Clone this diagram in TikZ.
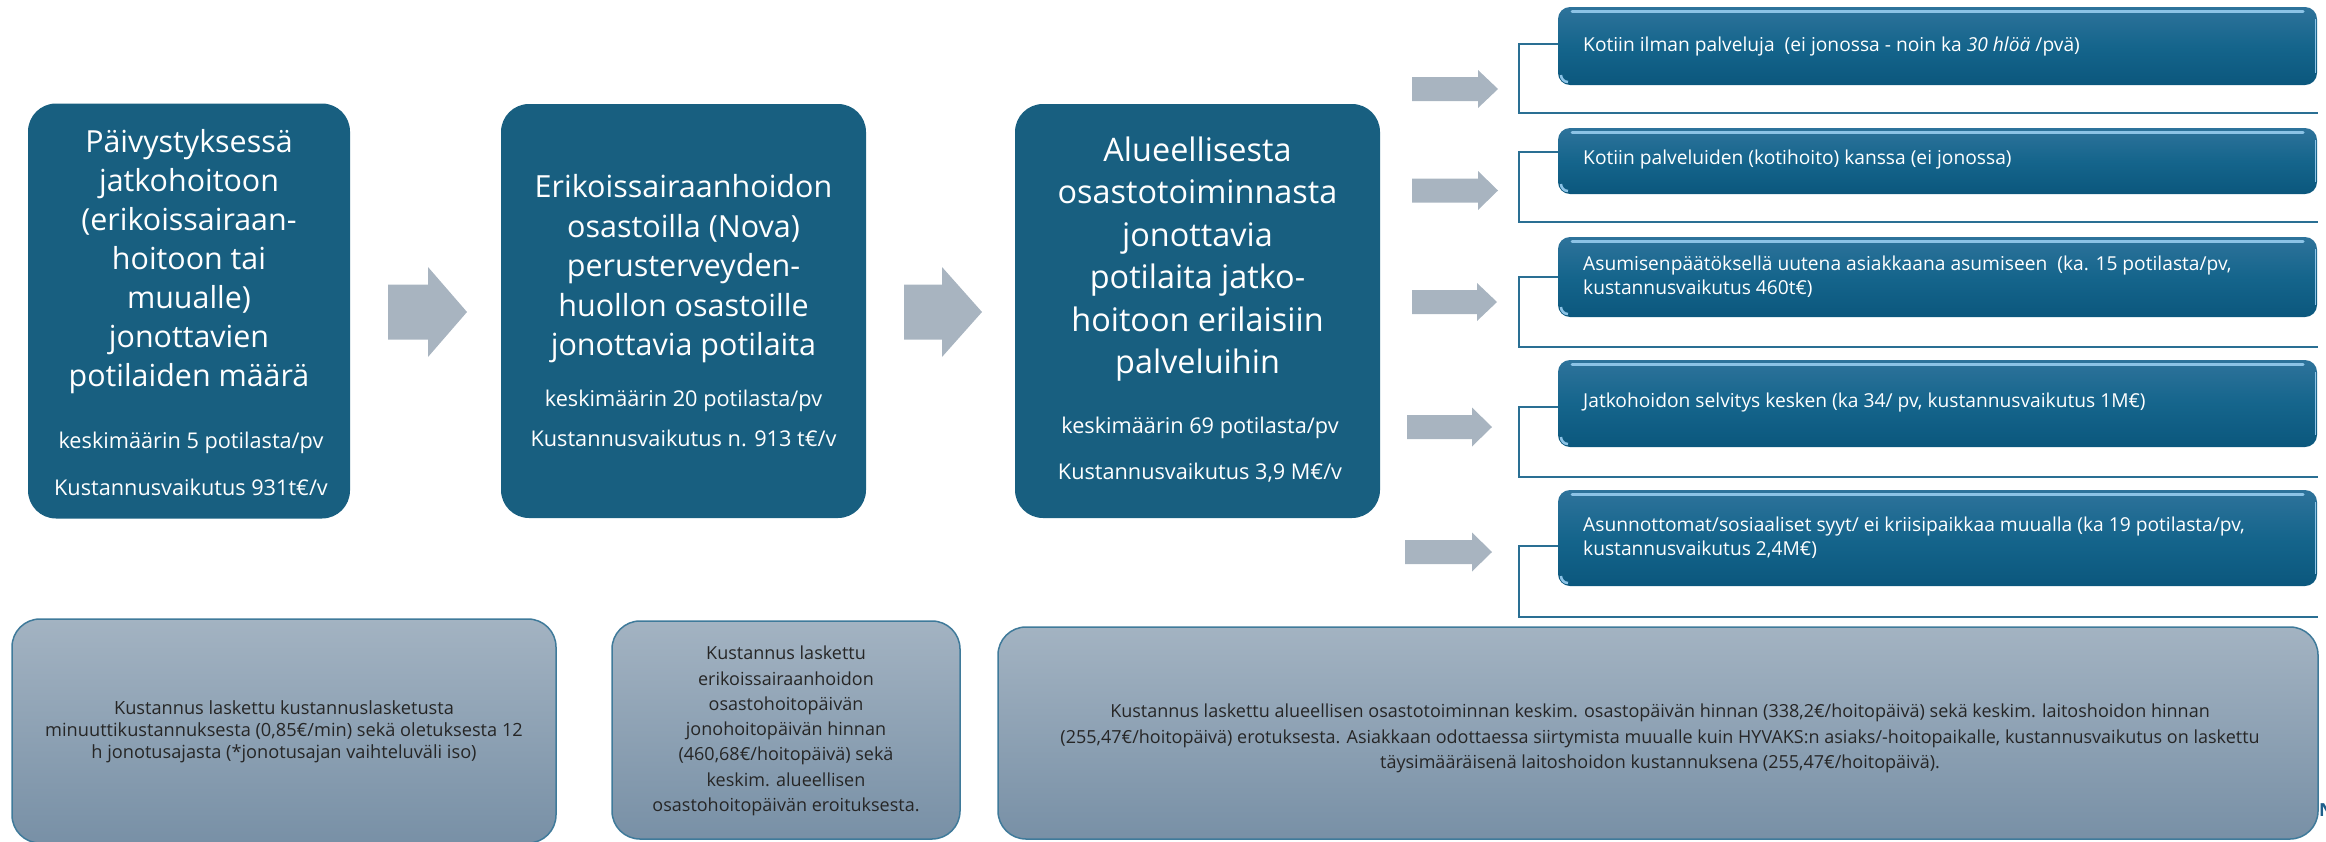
\documentclass[tikz,border=0pt]{standalone}
\usepackage{fontspec}
\setmainfont{Open Sans}
\definecolor{topblue}{HTML}{185F80}
\definecolor{arrowgray}{HTML}{A8B4C0}
\definecolor{rtop}{HTML}{2E739B}
\definecolor{rmid}{HTML}{15658C}
\definecolor{rbot}{HTML}{0B577D}
\definecolor{hlblue}{HTML}{8CC3E6}
\definecolor{brkblue}{HTML}{2A6F93}
\definecolor{btop}{HTML}{A3B3C2}
\definecolor{bbot}{HTML}{7890A6}
\definecolor{bborder}{HTML}{3F7A9A}
\definecolor{btext}{HTML}{262626}
\definecolor{nblue}{HTML}{1F5F8B}
\newcommand\mkarrow[7]{%
  \fill[arrowgray] (#2,#5-#6) -- (#3,#5-#6) -- (#3,#5-#7) -- (#4,#5) -- (#3,#5+#7) -- (#3,#5+#6) -- (#2,#5+#6) -- cycle;
  \coordinate (#1) at (#4,#5);}
\tikzset{
  topbox/.style={fill=topblue, rounded corners=28pt, inner sep=0pt, outer sep=0pt},
  maintext/.style={text=white, align=center, inner sep=0pt},
  rbox/.style={top color=rtop, bottom color=rbot, middle color=rmid, rounded corners=12pt,
    minimum width=759pt, inner sep=0pt, outer sep=0pt},
  rtext/.style={text=white, align=left, anchor=west, inner sep=0pt,
    font=\fontsize{19.2}{24}\selectfont},
  hl/.style={draw=hlblue, line width=3pt, line cap=round},
  hlr/.style={draw=hlblue, line width=1.5pt},
  glint/.style={draw=hlblue, line width=2.5pt},
  brk/.style={draw=brkblue, line width=2pt},
  bbox/.style={top color=btop, bottom color=bbot, draw=bborder, line width=1.5pt,
    rounded corners=28pt, inner sep=0pt, outer sep=0pt},
  btxt/.style={text=btext, align=center, inner sep=0pt}
}
\begin{document}
\begin{tikzpicture}[x=1pt,y=-1pt]
\useasboundingbox (0,0) rectangle (2326,841);

% ---- top main boxes ----
\node[topbox, minimum width=322pt, minimum height=415pt] (b1) at (189,311) {};
\node[topbox, minimum width=365pt, minimum height=414pt] (b2) at (683.5,311) {};
\node[topbox, minimum width=365pt, minimum height=414pt] (b3) at (1197.5,311) {};

\node[maintext, font=\fontsize{30.4}{39}\selectfont] (b1t) at (189,262)
  {Päivystyksessä\\jatkohoitoon\\(erikoissairaan-\\hoitoon tai\\muualle)\\jonottavien\\potilaiden määrä};
\node[maintext, font=\fontsize{21.7}{47}\selectfont] (b1s) at (191,463.5)
  {keskimäärin 5 potilasta/pv\\Kustannusvaikutus 931t€/v};

\node[maintext, font=\fontsize{30.5}{39.5}\selectfont] (b2t) at (683.5,269)
  {Erikoissairaanhoidon\\osastoilla (Nova)\\perusterveyden-\\huollon osastoille\\jonottavia potilaita};
\node[maintext, font=\fontsize{21.7}{40}\selectfont] (b2s) at (683.5,418)
  {keskimäärin 20 potilasta/pv\\Kustannusvaikutus n. 913 t€/v};

\node[maintext, font=\fontsize{32.4}{42.4}\selectfont] (b3t) at (1197.5,259)
  {Alueellisesta\\osastotoiminnasta\\jonottavia\\potilaita jatko-\\hoitoon erilaisiin\\palveluihin};
\node[maintext, font=\fontsize{21.7}{46}\selectfont] (b3s) at (1200,450)
  {keskimäärin 69 potilasta/pv\\Kustannusvaikutus 3,9 M€/v};

% ---- block arrows ----
\mkarrow{a1}{388}{428}{467}{312}{27.5}{45}
\mkarrow{a2}{904}{942}{982}{312}{27.5}{45}
\mkarrow{ra1}{1412}{1478}{1498}{89}{12}{19}
\mkarrow{ra2}{1412}{1478}{1498}{190.5}{12}{19.5}
\mkarrow{ra3}{1412}{1477}{1497}{302}{12}{19}
\mkarrow{ra4}{1407}{1472}{1492}{427}{12}{19.5}
\mkarrow{ra5}{1405}{1472}{1492}{552}{12}{19.5}

% ---- right boxes ----
\node[rbox, minimum height=78pt] (r1) at (1937.5,46) {};
\node[rbox, minimum height=66pt] (r2) at (1937.5,161) {};
\node[rbox, minimum height=80pt] (r3) at (1937.5,277) {};
\node[rbox, minimum height=87pt] (r4) at (1937.5,403.5) {};
\node[rbox, minimum height=96pt] (r5) at (1937.5,538) {};

\foreach \r in {r1,r2,r3,r4,r5}{
  \draw[hl] ([xshift=14pt,yshift=-4pt]\r.north west) -- ([xshift=-14pt,yshift=-4pt]\r.north east);
  \draw[hlr] ([xshift=-1.5pt,yshift=-12pt]\r.north east) -- ([xshift=-1.5pt,yshift=12pt]\r.south east);
  \draw[glint] ([xshift=3pt,yshift=10pt]\r.south west) arc[start angle=180,end angle=270,radius=7pt];
}

% brackets
\coordinate (e1) at (2318,113);
\coordinate (e2) at (2318,222);
\coordinate (e3) at (2318,347);
\coordinate (e4) at (2318,477);
\coordinate (e5) at (2318,617);
\draw[brk] ([yshift=2pt]r1.west) -- ++(-39,0) |- (e1);
\draw[brk] ([yshift=9pt]r2.west) -- ++(-39,0) |- (e2);
\draw[brk] (r3.west) -- ++(-39,0) |- (e3);
\draw[brk] ([yshift=-3.5pt]r4.west) -- ++(-39,0) |- (e4);
\draw[brk] ([yshift=-8pt]r5.west) -- ++(-39,0) |- (e5);

\node[rtext] (r1t) at (1583,47) {Kotiin ilman palveluja\ \ (ei jonossa - noin ka \textit{30 hlöä} /pvä)};
\node[rtext] (r2t) at (1583,160) {Kotiin palveluiden (kotihoito) kanssa (ei jonossa)};
\node[rtext] (r3t) at (1583,277) {Asumisenpäätöksellä uutena asiakkaana asumiseen\ \ (ka. 15 potilasta/pv,\\kustannusvaikutus 460t€)};
\node[rtext] (r4t) at (1583,403) {Jatkohoidon selvitys kesken (ka 34/ pv, kustannusvaikutus 1M€)};
\node[rtext] (r5t) at (1583,538) {Asunnottomat/sosiaaliset syyt/ ei kriisipaikkaa muualla (ka 19 potilasta/pv,\\kustannusvaikutus 2,4M€)};

% ---- bottom boxes ----
\node[bbox, minimum width=544pt, minimum height=224pt] (n1) at (284,731) {};
\node[bbox, minimum width=348pt, minimum height=218pt] (n2) at (786,730) {};
\node[bbox, minimum width=1320pt, minimum height=212pt] (n3) at (1658,733) {};

\node[btxt, font=\fontsize{18.2}{21.8}\selectfont] (n1t) at (284,732)
  {Kustannus laskettu kustannuslasketusta\\minuuttikustannuksesta (0,85€/min) sekä oletuksesta 12\\h jonotusajasta (*jonotusajan vaihteluväli iso)};
\node[btxt, font=\fontsize{18}{25.3}\selectfont] (n2t) at (786,731)
  {Kustannus laskettu\\erikoissairaanhoidon\\osastohoitopäivän\\jonohoitopäivän hinnan\\(460,68€/hoitopäivä) sekä\\keskim. alueellisen\\osastohoitopäivän eroituksesta.};
\node[btxt, font=\fontsize{18}{25.5}\selectfont] (n3t) at (1660,738.5)
  {Kustannus laskettu alueellisen osastotoiminnan keskim. osastopäivän hinnan (338,2€/hoitopäivä) sekä keskim. laitoshoidon hinnan\\(255,47€/hoitopäivä) erotuksesta. Asiakkaan odottaessa siirtymista muualle kuin HYVAKS:n asiaks/-hoitopaikalle, kustannusvaikutus on laskettu\\täysimääräisenä laitoshoidon kustannuksena (255,47€/hoitopäivä).};

\node[anchor=west, inner sep=0pt, text=nblue, font=\fontsize{18}{18}\selectfont\bfseries] (nn) at (2319,810) {N};
\end{tikzpicture}
\end{document}
